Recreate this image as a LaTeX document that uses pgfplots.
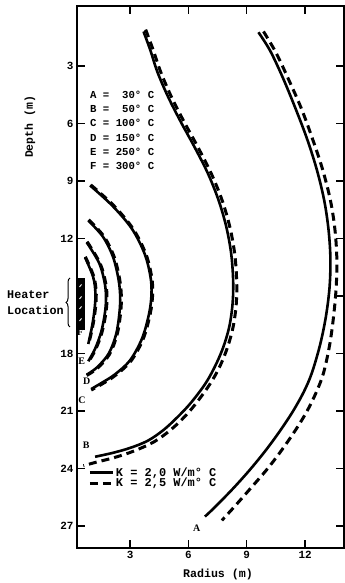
\documentclass[border=0pt]{standalone}
\usepackage{fontspec}
\setmainfont{Liberation Serif}
\setmonofont{Liberation Mono}
\usepackage{pgfplots}
\pgfplotsset{compat=1.18}
\usetikzlibrary{decorations.pathreplacing}

\tikzset{
  solidK/.style={line width=2.6bp, smooth, tension=0.55},
  dashK/.style={line width=3bp, dash pattern=on 8bp off 5bp, smooth, tension=0.55},
}

\begin{document}
\begin{tikzpicture}[x=1bp,y=1bp]
\path[use as bounding box] (0,0) rectangle (344,583);
\begin{axis}[
  at={(77bp,35bp)}, anchor=south west,
  scale only axis, width=267bp, height=542bp,
  xmin=0.27, xmax=14.0, ymin=-0.13, ymax=28.14, y dir=reverse,
  xtick={3,6,9,12}, ytick={3,6,...,27},
  yticklabels={3,6,9,12,,18,21,24,27},
  tick align=inside, xtick pos=both, ytick pos=both,
  major tick length=8bp,
  every tick/.style={black, line width=1.3bp},
  axis line style={line width=1.6bp},
  ticklabel style={font=\fontsize{11}{12}\selectfont\ttfamily\bfseries},
  /pgf/number format/assume math mode=true,
  legend cell align=left,
  legend style={draw=none, fill=none, inner sep=0pt, row sep=0.5bp,
    at={(axis cs:0.84,23.95)}, anchor=north west,
    font=\fontsize{12}{12}\selectfont\ttfamily\bfseries,
    nodes={inner sep=1.5bp, text height=7bp, text depth=0bp}},
  legend image code/.code={\draw[#1, line width=3.2bp] (0bp,0bp) -- (23bp,0bp);},
]
% isotherm A (30 C), both conductivities
\addplot[solidK] coordinates {
 (9.6,1.24) (10.2,2.2) (10.85,3.6) (11.5,5.2) (12.1,6.8) (12.6,8.4) (12.98,10.0)
 (13.2,11.5) (13.3,13.0) (13.26,14.5) (13.08,16.0) (12.78,17.5) (12.35,19.0)
 (11.93,20.0) (11.38,21.0) (10.73,22.0) (10.01,23.0) (9.21,24.0) (8.33,25.0)
 (7.37,26.0) (6.85,26.5)};
\addlegendentry{K = 2,0 W/m° C}
\addplot[dashK] coordinates {
 (9.86,1.2) (10.5,2.3) (11.15,3.7) (11.8,5.2) (12.38,6.8) (12.9,8.4) (13.3,10.0)
 (13.53,11.5) (13.63,13.0) (13.6,14.5) (13.47,16.0) (13.27,17.5) (12.95,19.0)
 (12.58,20.0) (12.1,21.0) (11.5,22.0) (10.82,23.0) (10.07,24.0) (9.22,25.0)
 (8.35,26.0) (7.72,26.7)};
\addlegendentry{K = 2,5 W/m° C}

% isotherm B (50 C)
\addplot[solidK, forget plot] coordinates {
 (3.69,1.2) (4.05,2.2) (4.4,3.3) (4.95,4.6) (5.6,5.9) (6.3,7.2) (7.0,8.6)
 (7.55,10.0) (7.95,11.4) (8.2,12.8) (8.3,14.2) (8.27,15.4) (8.1,16.6) (7.78,17.7)
 (7.35,18.7) (6.85,19.6) (6.1,20.6) (5.4,21.35) (4.7,22.0) (3.9,22.55)
 (3.0,22.92) (2.1,23.18) (1.2,23.38)};
\addplot[dashK, forget plot] coordinates {
 (3.8,1.1) (4.2,2.2) (4.57,3.3) (5.12,4.6) (5.77,5.9) (6.47,7.2) (7.17,8.6)
 (7.73,10.0) (8.13,11.4) (8.38,12.8) (8.48,14.2) (8.46,15.4) (8.3,16.6) (8.0,17.7)
 (7.6,18.7) (7.1,19.6) (6.35,20.65) (5.7,21.4) (5.0,22.05) (4.2,22.62)
 (3.2,23.08) (2.2,23.42) (1.2,23.68) (0.6,23.85)};

% isotherm C (100 C)
\addplot[solidK, forget plot] coordinates {
 (0.94,9.23) (2.1,10.3) (3.1,11.5) (3.75,12.8) (4.05,14.0) (4.1,14.9)
 (3.98,15.9) (3.62,17.2) (3.0,18.35) (2.2,19.1) (1.5,19.55) (1.0,19.85)};
\addplot[dashK, forget plot] coordinates {
 (0.98,9.2) (2.16,10.28) (3.16,11.5) (3.81,12.8) (4.11,14.0) (4.16,14.9)
 (4.04,15.9) (3.68,17.22) (3.05,18.38) (2.24,19.14) (1.54,19.6) (1.0,19.9)};

% isotherm D (150 C)
\addplot[solidK, forget plot] coordinates {
 (0.85,11.06) (1.6,11.9) (2.12,12.95) (2.4,14.1) (2.49,15.0) (2.45,15.9)
 (2.28,17.0) (1.9,18.0) (1.3,18.72) (0.77,19.1)};
\addplot[dashK, forget plot] coordinates {
 (0.87,11.02) (1.65,11.88) (2.18,12.95) (2.46,14.1) (2.55,15.0) (2.51,15.9)
 (2.33,17.02) (1.94,18.04) (1.33,18.76) (0.77,19.14)};

% isotherm E (250 C)
\addplot[solidK, forget plot] coordinates {
 (0.77,12.2) (1.42,13.3) (1.7,14.35) (1.76,15.1) (1.71,15.85) (1.52,16.85)
 (1.2,17.75) (0.85,18.4)};
\addplot[dashK, forget plot] coordinates {
 (0.79,12.16) (1.46,13.3) (1.75,14.35) (1.81,15.1) (1.76,15.85) (1.56,16.87)
 (1.23,17.78) (0.86,18.44)};

% isotherm F (300 C)
\addplot[solidK, forget plot] coordinates {
 (0.68,12.98) (1.1,14.0) (1.22,14.9) (1.16,15.8) (1.03,16.65) (0.85,17.5)};
\addplot[dashK, forget plot] coordinates {
 (0.7,12.95) (1.14,14.0) (1.26,14.9) (1.2,15.8) (1.06,16.67) (0.86,17.54)};

% curve letters
\begin{scope}[every node/.style={font=\fontsize{10}{11}\selectfont\bfseries, inner sep=0pt}]
\node at (axis cs:6.43,27.1) {A};
\node at (axis cs:0.74,22.8) {B};
\node at (axis cs:0.53,20.45) {C};
\node at (axis cs:0.77,19.42) {D};
\node at (axis cs:0.51,18.42) {E};
\node at (axis cs:0.43,16.9) {F};
\end{scope}
\end{axis}

% temperature key
\node[anchor=north west, inner sep=0pt, align=left,
      font=\fontsize{10.7}{14.4}\selectfont\ttfamily\bfseries] at (90,492.5)
 {A =  \phantom{1}30° C\\B = \phantom{1}50° C\\C = 100° C\\D = 150° C\\E = 250° C\\F = 300° C};

% heater
\fill[black] (76.5,253) rectangle (85,305);
\foreach \yy in {296,284,274,262} \draw[white, line width=0.9bp] (79.5,\yy) -- (81.5,\yy+2.5);
\draw[line width=1bp, decorate, decoration={brace, amplitude=4bp}] (70,256) -- (70,305);
\node[anchor=west, inner sep=0pt, font=\fontsize{11.8}{12}\selectfont\ttfamily\bfseries] at (7,288) {Heater};
\node[anchor=west, inner sep=0pt, font=\fontsize{11.8}{12}\selectfont\ttfamily\bfseries] at (7,273) {Location};

% axis titles
\node[rotate=90, inner sep=0pt, font=\fontsize{11.5}{12}\selectfont\ttfamily\bfseries] at (30,456) {Depth (m)};
\node[inner sep=0pt, font=\fontsize{11.7}{12}\selectfont\ttfamily\bfseries] at (218,9) {Radius (m)};
\end{tikzpicture}
\end{document}
